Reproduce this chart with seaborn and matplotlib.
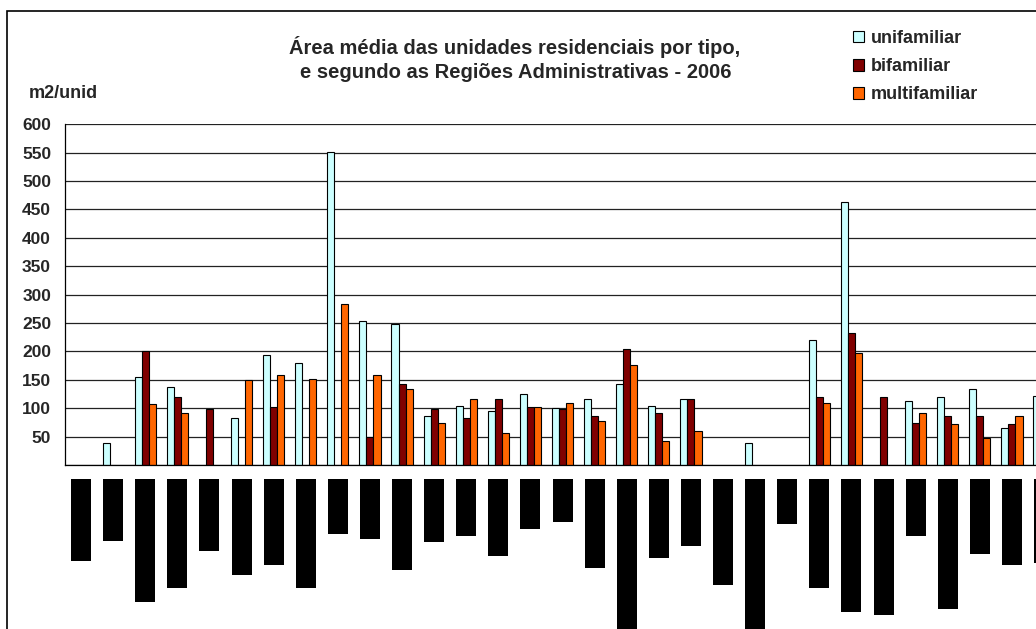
import numpy as np
import pandas as pd
import matplotlib
matplotlib.use("Agg")
import matplotlib.pyplot as plt
from matplotlib.patches import Patch, Rectangle
import seaborn as sns

nan = np.nan

# Regioes Administrativas (rotulos nao legiveis no original)
regioes = ['I', 'II', 'III', 'IV', 'V', 'VI', 'VII', 'VIII', 'IX', 'X',
           'XI', 'XII', 'XIII', 'XIV', 'XV', 'XVI', 'XVII', 'XVIII', 'XIX', 'XX',
           'XXI', 'XXII', 'XXIII', 'XXIV', 'XXV', 'XXVI', 'XXVII', 'XXVIII', 'XXIX', 'XXX',
           'XXXI']

# area media (m2/unid)
unifamiliar = [nan, 38, 155, 137, nan, 83, 194, 179, 552, 254,
               248, 86, 104, 95, 125, 101, 116, 143, 104, 116,
               nan, 38, nan, 221, 463, nan, 113, 119, 134, 65,
               122]
bifamiliar = [nan, nan, 200, 119, 98, nan, 102, nan, nan, 50,
              143, 98, 83, 116, 102, 98, 86, 204, 92, 116,
              nan, nan, nan, 119, 233, 119, 74, 86, 86, 72,
              110]
multifamiliar = [nan, nan, 107, 92, nan, 149, 158, 151, 283, 158,
                 134, 74, 116, 57, 102, 110, 77, 176, 42, 60,
                 nan, nan, nan, 110, 197, nan, 92, 72, 47, 86,
                 95]

# comprimento dos rotulos do eixo x (aparecem como blocos pretos)
comprimento_rotulo = [82, 62, 123, 109, 72, 96, 86, 109, 55, 60,
                      91, 63, 57, 77, 50, 43, 89, 160, 79, 67,
                      106, 160, 45, 109, 133, 136, 57, 130, 75, 86,
                      84]

tipos = ['unifamiliar', 'bifamiliar', 'multifamiliar']
cores = ['#CCFFFF', '#800000', '#FF6600']

df = pd.DataFrame({
    'regiao': regioes * 3,
    'tipo': np.repeat(tipos, len(regioes)),
    'area': unifamiliar + bifamiliar + multifamiliar,
})
df_rot = pd.DataFrame({'regiao': regioes, 'comprimento': comprimento_rotulo})

sns.set_style('white')
plt.rcParams['font.family'] = ['Liberation Sans', 'DejaVu Sans']

W, H = 1036, 629
fig = plt.figure(figsize=(W / 100, H / 100), dpi=100)

# plot area (extends past the right edge, as in the original)
left, zero_y, top_y = 65, 465, 124.3
plot_w = 32.1 * len(regioes)
ax = fig.add_axes([left / W, 1 - zero_y / H, plot_w / W, (zero_y - top_y) / H])

sns.barplot(data=df, x='regiao', y='area', hue='tipo', order=regioes,
            hue_order=tipos, palette=cores, width=0.66, saturation=1,
            edgecolor='black', linewidth=0.8, err_kws={'linewidth': 0},
            legend=False, ax=ax)

ax.set_xlim(-0.5, len(regioes) - 0.5)
ax.set_ylim(0, 600)
ax.set_yticks(np.arange(0, 601, 50))
ax.set_yticklabels([''] + [str(v) for v in range(50, 601, 50)])
ax.set_xticks(np.arange(-0.5, len(regioes), 1))
ax.set_xticklabels([])
ax.set_xlabel('')
ax.set_ylabel('')
ax.grid(axis='y', color='#222222', linewidth=0.9)
ax.set_axisbelow(True)
for s in ['top', 'right']:
    ax.spines[s].set_visible(False)
for s in ['left', 'bottom']:
    ax.spines[s].set_color('black')
    ax.spines[s].set_linewidth(0.9)
ax.tick_params(axis='y', direction='out', length=4, width=0.9, color='black',
               labelsize=12.5, pad=6)
ax.tick_params(axis='x', direction='out', length=4, width=0.9, color='#555555')
for lab in ax.get_yticklabels():
    lab.set_fontweight('bold')

# blocos pretos dos rotulos
ax2 = fig.add_axes([left / W, 0, plot_w / W, (H - 479) / H])
sns.barplot(data=df_rot, x='regiao', y='comprimento', order=regioes,
            color='black', saturation=1, width=0.62, linewidth=0,
            err_kws={'linewidth': 0}, ax=ax2)
ax2.set_xlim(-0.5, len(regioes) - 0.5)
ax2.set_ylim(H - 479, 0)
ax2.axis('off')

# titulo e rotulo do eixo
fig.text(515 / W, 1 - 47 / H, 'Área média das unidades residenciais por tipo,',
         ha='center', va='center', fontsize=14.5, fontweight='bold')
fig.text(516 / W, 1 - 73 / H, 'e segundo as Regiões Administrativas - 2006',
         ha='center', va='center', fontsize=14.5, fontweight='bold')
fig.text(29 / W, 1 - 93 / H, 'm2/unid', ha='left', va='center',
         fontsize=13, fontweight='bold')

# legenda
handles = [Patch(facecolor=c, edgecolor='black', linewidth=0.8) for c in cores]
fig.legend(handles, tipos, loc='upper left',
           bbox_to_anchor=(853 / W, 1 - 30 / H), frameon=False,
           prop={'size': 13, 'weight': 'bold'}, handlelength=0.6,
           handleheight=0.6, handletextpad=0.4, labelspacing=0.62,
           borderpad=0, borderaxespad=0)

# moldura do grafico
fig.patches.append(Rectangle((7 / W, -0.1), 1.2, 1.1 - 10.7 / H,
                             transform=fig.transFigure, fill=False,
                             edgecolor='black', linewidth=1.2))

fig.savefig('out.png', dpi=100)
